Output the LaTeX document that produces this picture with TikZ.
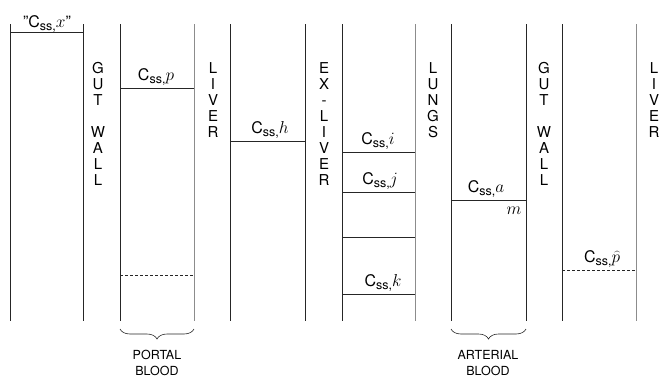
\documentclass[tikz,border=0pt]{standalone}
\usepackage{fontspec}
\setmainfont{TeX Gyre Heros}
\usetikzlibrary{decorations.pathreplacing}
\newcommand{\myfont}{\fontsize{15}{16}\selectfont}
\newcommand{\Css}[1]{C\raisebox{-0.4ex}{\fontsize{12.5}{10}\selectfont ss,}$#1$}
\tikzset{
    wall style/.style={draw=black!85,line width=0.8pt},
    wall style light/.style={draw=black!45,line width=0.8pt},
    level style/.style={draw=black!85,line width=0.7pt},
    level style dash/.style={level style,dash pattern=on 3pt off 2pt},
    organ style/.style={inner sep=0pt,align=center,anchor=north,font=\myfont},
    conc style/.style={inner sep=0pt,anchor=base,%
                       font=\fontsize{16}{16}\selectfont},
    pool style/.style={inner sep=0pt,align=center,anchor=north,%
                       font=\fontsize{12.5}{16}\selectfont},
    brace style/.style={decorate,draw=black!85,line width=0.6pt,%
                        decoration={brace,mirror,amplitude=10pt}},
}

\begin{document}
\begin{tikzpicture}[x=1pt,y=-1pt]
\useasboundingbox (0,0) rectangle (671,383);
% les parois des compartiments
\foreach \xx in {10,83,120,230,305,342,451,526,562}
    \draw[wall style] (\xx,24) -- (\xx,321);
\foreach \xx in {194,415,636}
    \draw[wall style light] (\xx,24) -- (\xx,321);
% les niveaux
\draw[level style] (10,32) -- (83,32);
\draw[level style] (120,88) -- (194,88);
\draw[level style dash] (120,275) -- (194,275);
\draw[level style] (230,141) -- (305,141);
\draw[level style] (342,152) -- (415,152);
\draw[level style] (342,192) -- (415,192);
\draw[level style] (342,237) -- (415,237);
\draw[level style] (342,294) -- (415,294);
\draw[level style] (451,200) -- (526,200);
\draw[level style dash] (562,270) -- (636,270);
% les concentrations
\node[conc style] (cx) at (47,27) {"\Css{x}"};
\node[conc style] (cp) at (156,80) {\Css{p}};
\node[conc style] (ch) at (270,133) {\Css{h}};
\node[conc style] (ci) at (378,144) {\Css{i}};
\node[conc style] (cj) at (380,184) {\Css{j}};
\node[conc style] (ck) at (383,286) {\Css{k}};
\node[conc style] (ca) at (486,192) {\Css{a}};
\node[conc style] (m) at (514,214) {$m$};
\node[conc style] (cph) at (602,262) {\Css{\widehat{p}}};
% les organes
\node[organ style] (gut1) at (98,62) {G\\U\\T\\[16pt]W\\A\\L\\L};
\node[organ style] (liver1) at (213,62) {L\\I\\V\\E\\R};
\node[organ style] (exliver) at (324,62) {E\\X\\-\\L\\I\\V\\E\\R};
\node[organ style] (lungs) at (433,62) {L\\U\\N\\G\\S};
\node[organ style] (gut2) at (544,62) {G\\U\\T\\[16pt]W\\A\\L\\L};
\node[organ style] (liver2) at (654,62) {L\\I\\V\\E\\R};
% les accolades
\draw[brace style] (120,329) -- (194,329);
\draw[brace style] (451,329) -- (526,329);
\node[pool style] (portal) at (157,350) {PORTAL\\BLOOD};
\node[pool style] (arterial) at (488,350) {ARTERIAL\\BLOOD};
\end{tikzpicture}
\end{document}
